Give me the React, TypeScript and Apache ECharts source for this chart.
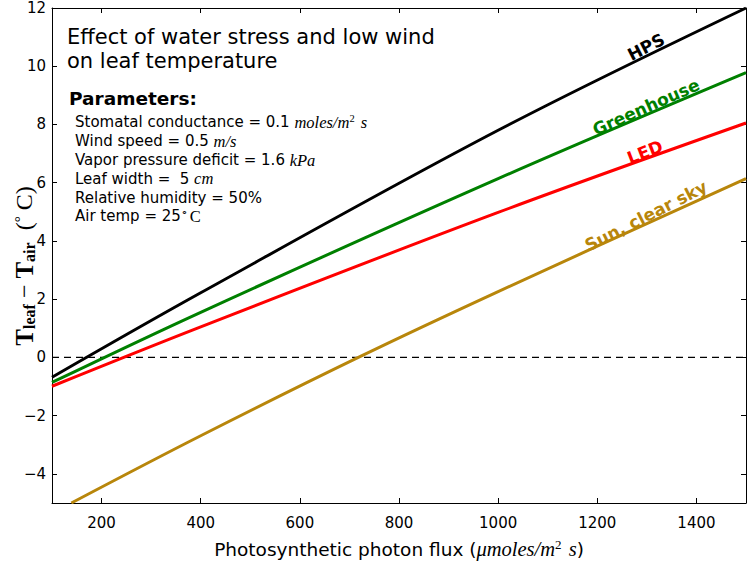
import React, { useEffect, useRef } from "react";
import * as echarts from "echarts";

const hpsX = [100, 400, 1000, 1500];
const hpsY = [-0.68, 2.22, 7.8, 12.0];
const greenX = [100, 400, 1000, 1500];
const greenY = [-0.86, 1.55, 6.14, 9.78];
const ledX = [100, 400, 1000, 1500];
const ledY = [-0.99, 1.05, 4.98, 8.05];
const sunX = [139, 400, 718, 1000, 1500];
const sunY = [-5, -2.69, 0, 2.26, 6.14];
const zeroX = [100, 1500];
const zeroY = [0, 0];

const seriesNames = ["HPS", "Greenhouse", "LED", "Sun, clear sky"];
const seriesColors = ["#000000", "#008000", "#ff0000", "#b8860b"];

const xTicks = [200, 400, 600, 800, 1000, 1200, 1400];
const yTicks = [-4, -2, 0, 2, 4, 6, 8, 10, 12];

const titleLines = ["Effect of water stress and low wind", "on leaf temperature"];
const paramsHeader = "Parameters:";

const zip = (xs: number[], ys: number[]) => xs.map((x, i) => [x, ys[i]]);

export default function App() {
  const ref = useRef<HTMLDivElement>(null);
  useEffect(() => {
    document.body.style.margin = "0";
    const chart = echarts.init(ref.current!, null, { renderer: "svg" });
    const sans = "DejaVu Sans";
    const math = "Liberation Serif";
    const lineData = [
      zip(hpsX, hpsY),
      zip(greenX, greenY),
      zip(ledX, ledY),
      zip(sunX, sunY),
    ];
    const labelPos = [
      { x: 646, y: 47, rot: 27 },
      { x: 646, y: 107, rot: 24 },
      { x: 645, y: 152, rot: 21 },
      { x: 646, y: 216, rot: 27 },
    ];
    chart.setOption({
      animation: false,
      grid: { left: 52, right: 4, top: 8, bottom: 52 },
      xAxis: [
        {
          type: "value",
          min: 100,
          max: 1500,
          axisLine: { onZero: false, lineStyle: { color: "#000", width: 1 } },
          axisTick: { inside: true, length: 5, lineStyle: { color: "#000" }, customValues: xTicks },
          axisLabel: {
            fontFamily: sans,
            fontSize: 15,
            color: "#000",
            margin: 12,
            customValues: xTicks,
            formatter: (v: number) => String(v),
          },
          splitLine: { show: false },
          name: "{n|Photosynthetic photon flux (}{m|μmoles/m}{sup|2}{m| s}{n|)}",
          nameLocation: "middle",
          nameGap: 35,
          nameTextStyle: {
            rich: {
              n: { fontFamily: sans, fontSize: 18.5, color: "#000" },
              m: { fontFamily: math, fontStyle: "italic", fontSize: 20.5, color: "#000" },
              sup: { fontFamily: math, fontSize: 13, color: "#000", verticalAlign: "top", padding: [0, 2, 9, 0] },
            },
          },
        },
        {
          type: "value",
          position: "top",
          min: 100,
          max: 1500,
          axisLine: { onZero: false, lineStyle: { color: "#000", width: 1 } },
          axisTick: { inside: true, length: 5, lineStyle: { color: "#000" }, customValues: xTicks },
          axisLabel: { show: false },
          splitLine: { show: false },
        },
      ],
      yAxis: [
        {
          type: "value",
          min: -5,
          max: 12,
          axisLine: { onZero: false, lineStyle: { color: "#000", width: 1 } },
          axisTick: { inside: true, length: 5, lineStyle: { color: "#000" }, customValues: yTicks },
          axisLabel: {
            fontFamily: sans,
            fontSize: 15,
            color: "#000",
            margin: 6,
            customValues: yTicks,
            formatter: (v: number) => (v < 0 ? "\u2212" + Math.abs(v) : String(v)),
          },
          splitLine: { show: false },
        },
        {
          type: "value",
          position: "right",
          min: -5,
          max: 12,
          axisLine: { onZero: false, lineStyle: { color: "#000", width: 1 } },
          axisTick: { inside: true, length: 5, lineStyle: { color: "#000" }, customValues: yTicks },
          axisLabel: { show: false },
          splitLine: { show: false },
        },
      ],
      series: [
        {
          type: "line",
          data: zip(zeroX, zeroY),
          symbol: "none",
          lineStyle: { color: "#000", width: 1.3, type: [7, 5] },
          silent: true,
        },
        ...lineData.map((d, i) => ({
          name: seriesNames[i],
          type: "line",
          data: d,
          symbol: "none",
          smooth: 0.35,
          lineStyle: { color: seriesColors[i], width: 3 },
          silent: true,
        })),
      ],
      graphic: [
        {
          type: "text",
          left: 67,
          top: 25,
          style: {
            text: titleLines.join("\n"),
            font: `21px "${sans}"`,
            fill: "#000",
            lineHeight: 24,
          },
        },
        {
          type: "text",
          left: 69,
          top: 89,
          style: {
            text: paramsHeader,
            font: `bold 18.5px "${sans}"`,
            fill: "#000",
          },
        },
        {
          type: "text",
          left: 75,
          top: 113,
          style: {
            text: [
              "{n|Stomatal conductance = 0.1 }{m|moles/m}{sup|2}{m| s}",
              "{n|Wind speed = 0.5 }{m|m/s}",
              "{n|Vapor pressure deficit = 1.6 }{m|kPa}",
              "{n|Leaf width =  5 }{m|cm}",
              "{n|Relative humidity = 50%}",
              "{n|Air temp = 25}{sup|∘}{r|C}",
            ].join("\n"),
            rich: {
              n: { fontFamily: sans, fontSize: 15, fill: "#000", lineHeight: 18.8 },
              m: { fontFamily: math, fontStyle: "italic", fontSize: 16.5, fill: "#000", lineHeight: 18.8 },
              r: { fontFamily: math, fontSize: 16.5, fill: "#000", lineHeight: 18.8 },
              sup: { fontFamily: math, fontSize: 10.5, fill: "#000", lineHeight: 18.8, verticalAlign: "top", padding: [0, 2, 6, 0] },
            },
          },
        },
        {
          type: "text",
          x: 24,
          y: 266,
          rotation: Math.PI / 2,
          style: {
            text: "{b|T}{s|leaf}{o| − }{b|T}{s|air}{o|  (}{d|°}{o| C)}",
            align: "center",
            verticalAlign: "middle",
            rich: {
              b: { fontFamily: math, fontWeight: "bold", fontSize: 25, fill: "#000" },
              s: { fontFamily: math, fontWeight: "bold", fontSize: 16, fill: "#000", padding: [11, 0, 0, 0] },
              o: { fontFamily: math, fontSize: 24, fill: "#000" },
              d: { fontFamily: math, fontSize: 15, fill: "#000", padding: [0, 0, 9, 0] },
            },
          },
        },
        ...labelPos.map((p, i) => ({
          type: "text",
          x: p.x,
          y: p.y,
          rotation: (p.rot * Math.PI) / 180,
          style: {
            text: seriesNames[i],
            font: `bold 17px "${sans}"`,
            fill: seriesColors[i],
            align: "center",
            verticalAlign: "middle",
          },
        })),
      ],
    });
    return () => chart.dispose();
  }, []);
  return <div ref={ref} style={{ width: 750, height: 564 }} />;
}
